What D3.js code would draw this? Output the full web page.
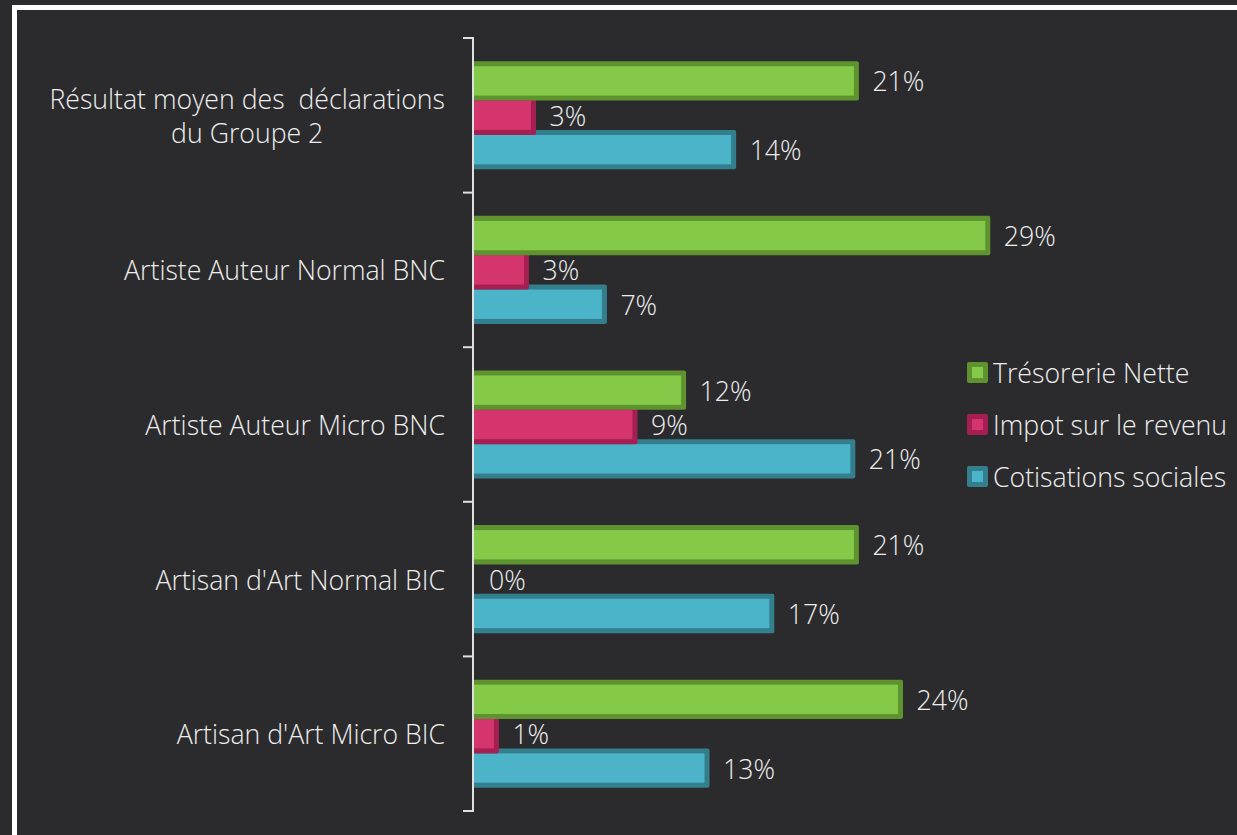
<!DOCTYPE html>
<html>
<head>
<meta charset="utf-8">
<script src="https://cdn.jsdelivr.net/npm/d3@7"></script>
<style>
  body { margin: 0; background: #2b2b2d; }
  text { font-family: "Open Sans", sans-serif; font-weight: 300; fill: #eeeeee; }
</style>
</head>
<body>
<div id="chart"></div>
<script>
var categories = [
  "Résultat moyen des  déclarations\ndu Groupe 2",
  "Artiste Auteur Normal BNC",
  "Artiste Auteur Micro BNC",
  "Artisan d'Art Normal BIC",
  "Artisan d'Art Micro BIC"
];
var series = ["Trésorerie Nette", "Impot sur le revenu", "Cotisations sociales"];

// one value per category, as a fraction
var tresorerie = [0.213, 0.286, 0.117, 0.213, 0.2375];
var impot      = [0.0336, 0.0297, 0.090, 0.0, 0.013];
var cotisations = [0.1448, 0.073, 0.211, 0.166, 0.130];

var fills   = ["#85c948", "#d4356d", "#4cb4c8"];
var borders = ["#5e932f", "#a51f52", "#347f8e"];

var W = 1237, H = 835;
var fs = "26.67px";
var svg = d3.select("#chart").append("svg")
    .attr("width", W)
    .attr("height", H);

svg.append("rect")
    .attr("width", W).attr("height", H)
    .attr("fill", "#2b2b2d");

// white frame, running off the right and bottom
svg.append("rect")
    .attr("x", 14.5).attr("y", 7.5)
    .attr("width", 1300).attr("height", 900)
    .attr("fill", "none")
    .attr("stroke", "#ffffff")
    .attr("stroke-width", 5);

var x = d3.scaleLinear().domain([0, 0.30]).range([473, 1013]);
var y = d3.scaleBand().domain(d3.range(categories.length)).range([38, 811]);
var sub = d3.scaleBand().domain(d3.range(series.length))
    .range([0, y.bandwidth()]).paddingOuter(0.75);

var values = [tresorerie, impot, cotisations];
var fmt = d3.format(".0%");

// draw last series first so upper bars sit on top
var order = [2, 1, 0];
order.forEach(function(s) {
  var g = svg.append("g").attr("class", "series-" + s);
  values[s].forEach(function(v, i) {
    if (v <= 0) return;
    var top = y(i) + sub(s);
    var h = sub.bandwidth();
    g.append("rect")
        .attr("x", x(0))
        .attr("y", top - 2.5)
        .attr("width", x(v) - x(0) + 2.5)
        .attr("height", h + 5)
        .attr("rx", 2)
        .attr("fill", borders[s]);
    g.append("rect")
        .attr("x", x(0))
        .attr("y", top + 2.5)
        .attr("width", Math.max(0, x(v) - x(0) - 2.5))
        .attr("height", h - 5)
        .attr("fill", fills[s]);
  });
});

// value labels
series.forEach(function(name, s) {
  svg.append("g").selectAll("text")
    .data(values[s])
    .join("text")
      .attr("x", function(d) { return x(d) + 16; })
      .attr("y", function(d, i) { return y(i) + sub(s) + sub.bandwidth() / 2; })
      .attr("dominant-baseline", "central")
      .style("font-size", fs)
      .text(function(d) { return fmt(d); });
});

// category axis
var axis = svg.append("g");
axis.append("line")
    .attr("x1", x(0)).attr("x2", x(0))
    .attr("y1", 38).attr("y2", 811)
    .attr("stroke", "#e0e0e0").attr("stroke-width", 2);
axis.selectAll("line.tick")
  .data(d3.range(categories.length + 1))
  .join("line")
    .attr("class", "tick")
    .attr("x1", x(0) - 10).attr("x2", x(0) + 1)
    .attr("y1", function(d) { return d === categories.length ? 811 : y(d); })
    .attr("y2", function(d) { return d === categories.length ? 811 : y(d); })
    .attr("stroke", "#e0e0e0").attr("stroke-width", 2);

categories.forEach(function(c, i) {
  var lines = c.split("\n");
  var t = axis.append("text")
      .style("font-size", fs)
      .style("white-space", "pre")
      .attr("text-anchor", "middle");
  var lh = 34;
  var cy = y(i) + y.bandwidth() / 2;
  lines.forEach(function(l, k) {
    t.append("tspan")
        .attr("y", cy + (k - (lines.length - 1) / 2) * lh)
        .attr("dominant-baseline", "central")
        .text(l);
  });
  var maxW = 0;
  t.selectAll("tspan").each(function() {
    maxW = Math.max(maxW, this.getComputedTextLength());
  });
  t.selectAll("tspan").attr("x", 445 - maxW / 2);
});

// legend
var legend = svg.append("g");
series.forEach(function(name, s) {
  var ly = 372.5 + s * 52;
  legend.append("rect")
      .attr("x", 967).attr("y", ly - 10.5)
      .attr("width", 21).attr("height", 21)
      .attr("rx", 2)
      .attr("fill", borders[s]);
  legend.append("rect")
      .attr("x", 972).attr("y", ly - 5.5)
      .attr("width", 11).attr("height", 11)
      .attr("fill", fills[s]);
  legend.append("text")
      .attr("x", 993).attr("y", ly)
      .attr("dominant-baseline", "central")
      .style("font-size", fs)
      .text(name);
});
</script>
</body>
</html>
